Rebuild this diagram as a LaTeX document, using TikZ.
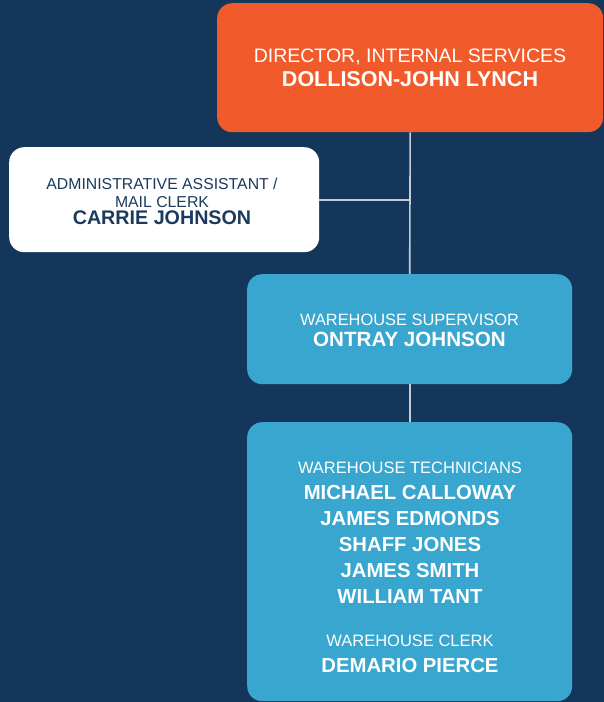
\documentclass[tikz,border=0pt]{standalone}
\usepackage{fontspec}
\setmainfont{Liberation Sans}
\definecolor{navybg}{HTML}{14365A}
\definecolor{orangebox}{HTML}{F15A2B}
\definecolor{bluebox}{HTML}{38A6CE}
\definecolor{navytext}{HTML}{1C3A5E}
\definecolor{linkgrey}{HTML}{C3CCD5}
\begin{document}
\begin{tikzpicture}[x=1pt,y=-1pt,
  boxshape/.style={rectangle,rounded corners=15pt,inner sep=0pt,anchor=north west},
  boxtext/.style={align=center,inner sep=0pt,text=white},
  link/.style={draw=linkgrey,line width=1.6pt}]
\useasboundingbox (0,0) rectangle (604,702);
\fill[navybg] (0,0) rectangle (604,702);
% boxes
\node[boxshape,fill=orangebox,minimum width=386pt,minimum height=129pt] (dir) at (217,3) {};
\node[boxshape,fill=white,minimum width=310pt,minimum height=105pt] (adm) at (9,147) {};
\node[boxshape,fill=bluebox,minimum width=325pt,minimum height=110pt] (sup) at (247,274) {};
\node[boxshape,fill=bluebox,minimum width=325pt,minimum height=279pt] (tech) at (247,422) {};
% connectors
\draw[link] (dir.south) -- (sup.north);
\draw[link] (sup.south) -- (tech.north);
\draw[link] (adm.east) -- (adm.east -| dir.south);
% texts
\node[boxtext,font=\fontsize{19.5}{24}\selectfont] (dirtext) at (410,67.5)
  {DIRECTOR, INTERNAL SERVICES\\{\bfseries\fontsize{21.5}{24}\selectfont DOLLISON-JOHN LYNCH}};
\node[boxtext,text=navytext,font=\fontsize{15.8}{17.5}\selectfont] (admtext) at (162,201.5)
  {ADMINISTRATIVE ASSISTANT /\\MAIL CLERK\\{\bfseries\fontsize{19.7}{17.5}\selectfont CARRIE JOHNSON}};
\node[boxtext,font=\fontsize{16.4}{20.5}\selectfont] (suptext) at (409.5,330.5)
  {WAREHOUSE SUPERVISOR\\{\bfseries\fontsize{20.6}{20.5}\selectfont ONTRAY JOHNSON}};
\node[boxtext,font=\fontsize{16.5}{26}\selectfont] (techtext) at (410,567.5)
  {WAREHOUSE TECHNICIANS\\
   {\bfseries\fontsize{20.3}{26}\selectfont MICHAEL CALLOWAY}\\
   {\bfseries\fontsize{20.3}{26}\selectfont JAMES EDMONDS}\\
   {\bfseries\fontsize{20.3}{26}\selectfont SHAFF JONES}\\
   {\bfseries\fontsize{20.3}{26}\selectfont JAMES SMITH}\\
   {\bfseries\fontsize{20.3}{26}\selectfont WILLIAM TANT}\\[17pt]
   WAREHOUSE CLERK\\
   {\bfseries\fontsize{20.3}{26}\selectfont DEMARIO PIERCE}};
\end{tikzpicture}
\end{document}
